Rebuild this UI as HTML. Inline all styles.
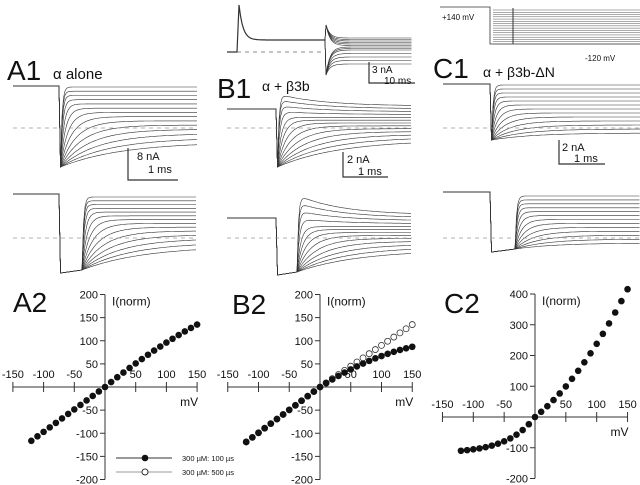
<!DOCTYPE html>
<html><head><meta charset="utf-8"><style>
html,body{margin:0;padding:0;background:#fff;}
svg{display:block;font-family:"Liberation Sans",sans-serif;}
</style></head><body>
<svg id="s" width="640" height="485" viewBox="0 0 640 485" xmlns="http://www.w3.org/2000/svg">
<g id="tr" fill="none" stroke="#333" stroke-width="0.6"></g>
<g id="ax" stroke="#333" stroke-width="1" fill="none"></g>
<g id="pts"></g>
<g fill="#111">
<text x="7" y="80" font-size="28">A1</text>
<text x="53" y="79" font-size="15">α alone</text>
<text x="217" y="98" font-size="28">B1</text>
<text x="262" y="91" font-size="14">α + β3b</text>
<text x="433" y="78" font-size="28">C1</text>
<text x="483" y="77" font-size="14">α + β3b-ΔN</text>
<text x="137" y="160" font-size="11">8 nA</text>
<text x="148" y="173" font-size="11">1 ms</text>
<text x="347" y="163" font-size="11">2 nA</text>
<text x="358" y="175" font-size="11">1 ms</text>
<text x="562" y="151" font-size="11">2 nA</text>
<text x="574" y="162" font-size="11">1 ms</text>
<text x="372" y="73" font-size="10">3 nA</text>
<text x="384" y="84" font-size="10">10 ms</text>
<text x="442" y="20" font-size="8">+140 mV</text>
<text x="585" y="61" font-size="8">-120 mV</text>
<text x="13" y="312" font-size="28">A2</text>
<text x="232" y="314" font-size="28">B2</text>
<text x="444" y="313" font-size="28">C2</text>
<text x="182" y="461" font-size="7.5">300 µM: 100 µs</text>
<text x="182" y="475" font-size="7.5">300 µM: 500 µs</text>
</g>
<g id="lbl" fill="#111" font-size="11"></g>
</svg>
<script>
var NS="http://www.w3.org/2000/svg";
function el(p,t,a,txt){var e=document.createElementNS(NS,t);for(var k in a)e.setAttribute(k,a[k]);if(txt!==undefined)e.textContent=txt;document.getElementById(p).appendChild(e);return e;}
function line(p,x1,y1,x2,y2,extra){var a={x1:x1,y1:y1,x2:x2,y2:y2};for(var k in extra)a[k]=extra[k];return el(p,'line',a);}
function fam(o){
 var n=o.n;
 for(var i=0;i<n;i++){
  var f=i/(n-1), L=o.l0+(o.l1-o.l0)*f, tau=1.5+Math.pow(f,o.pw||3)*o.tmax, h=o.hump?Math.max(0,o.hump*(1-f*3)):0;
  var d="M"+o.x0+","+o.base+" H"+o.xs+" L"+(o.xs+1.5)+","+o.peak;
  if(o.xr)d+=" L"+o.xr+","+(o.peak-3);
  var xr=o.xr||o.xs+1.5; var pk=o.xr?o.peak-3:o.peak;
  for(var x=xr;x<=o.x1;x+=1.5){var t=x-xr;var y=L+(pk-L)*Math.exp(-t/tau)-h*(1-Math.exp(-t/1.2))*Math.exp(-t/45);d+=" L"+x.toFixed(1)+","+y.toFixed(1);}
  el('tr','path',{d:d});
 }
 line('ax',o.x0,o.dash,o.x1,o.dash,{stroke:'#999','stroke-dasharray':'4,4','stroke-width':0.8});
}
fam({x0:13,base:86,xs:59,peak:167,x1:197,n:14,l0:87,l1:142,tmax:60,dash:128});
fam({x0:13,base:194,xs:59,peak:273,xr:82,x1:197,n:14,l0:197,l1:246,tmax:60,dash:238});
fam({x0:227,base:109,xs:276,peak:167,x1:412,n:13,l0:106,l1:140,tmax:60,hump:12,dash:128});
fam({x0:227,base:218,xs:276,peak:275,xr:297,x1:412,n:13,l0:215,l1:250,tmax:60,hump:20,dash:238});
fam({x0:443,base:84,xs:490,peak:140,x1:640,n:13,l0:85,l1:133,tmax:40,dash:128});
fam({x0:443,base:192,xs:490,peak:252,xr:515,x1:640,n:13,l0:196,l1:243,tmax:40,dash:238});
var d="M227,52 H237 L239,5";for(var x=239;x<=325;x+=1.5){d+=" L"+x+","+(40-35*Math.exp(-(x-239)/4)).toFixed(1);}
el('tr','path',{d:d,'stroke-width':1.2});
for(var i=0;i<13;i++){var L=38+i*1.5+(i>8?(i-8)*2:0);var pk=i<6?25:75;var d="M325,40 L326,"+pk;for(var x=326;x<=412;x+=1.5){d+=" L"+x+","+(L+(pk-L)*Math.exp(-(x-326)/4)).toFixed(1);}el('tr','path',{d:d});}
line('ax',237,52,325,52,{stroke:'#666','stroke-dasharray':'4,4','stroke-width':0.8});
function sb(x,y1,y2,x2){el('ax','path',{d:"M"+x+","+y1+" V"+y2+" H"+x2,'stroke-width':1.2});}
sb(128,148,180,178);sb(343,152,177,388);sb(559,140,164,605);sb(369,62,83,415);
el('ax','path',{d:"M440,7 H490 V44 H640",'stroke-width':0.8});
for(var i=0;i<16;i++){var y=10+i*34/15;line('ax',493,y,640,y,{'stroke-width':0.5,stroke:'#555'});}
line('ax',513,8,513,44,{'stroke-width':1});
function plot(o){
 var X=function(v){return o.x0+v*o.sx;},Y=function(v){return o.y0-v*o.sy;};
 line('ax',X(-150),o.y0,X(150),o.y0);
 line('ax',o.x0,Y(o.ymax),o.x0,Y(o.ymin));
 for(var v=-150;v<=150;v+=50){line('ax',X(v),o.y0-5,X(v),o.y0+5);if(v)el('lbl','text',{x:X(v),y:o.y0-9,'text-anchor':'middle'},String(v));}
 for(var v=o.ymin;v<=o.ymax;v+=o.ystep){if(!v)continue;line('ax',o.x0-5,Y(v),o.x0,Y(v));el('lbl','text',{x:o.x0-7,y:Y(v)+4,'text-anchor':'end'},String(v));}
 el('lbl','text',{x:o.x0+7,y:Y(o.ymax)+11,'font-size':12},"I(norm)");
 el('lbl','text',{x:X(150)-17,y:o.y0+19,'font-size':12},"mV");
 for(var v=-120;v<=150;v+=10){
  if(o.g2){var y2=o.g2(v);el('pts','circle',{cx:X(v),cy:Y(y2),r:3,fill:'#fff',stroke:'#333','stroke-width':0.8});}
  el('pts','circle',{cx:X(v),cy:Y(o.g(v)),r:3.3,fill:'#111'});
 }
}
plot({x0:105,y0:387,sx:0.614,sy:0.4625,ymin:-200,ymax:200,ystep:50,g:function(v){return v<0?v*0.97:v*1.08-0.0012*v*v;}});
plot({x0:320,y0:387,sx:0.615,sy:0.4625,ymin:-200,ymax:200,ystep:50,
 g:function(v){return v<0?v*0.99:v*0.85-0.0018*v*v;},
 g2:function(v){return v<0?v*0.99:v*0.9;}});
plot({x0:535,y0:417,sx:0.617,sy:0.3075,ymin:-200,ymax:400,ystep:100,g:function(v){return v<0?-118*(1-Math.exp(v/45)):1.6*v+0.0078*v*v;}});
line('ax',116,458,172,458);el('pts','circle',{cx:145,cy:458,r:3.3,fill:'#111'});
line('ax',116,472,172,472,{stroke:'#999'});el('pts','circle',{cx:145,cy:472,r:3,fill:'#fff',stroke:'#333'});
</script>
</body></html>
